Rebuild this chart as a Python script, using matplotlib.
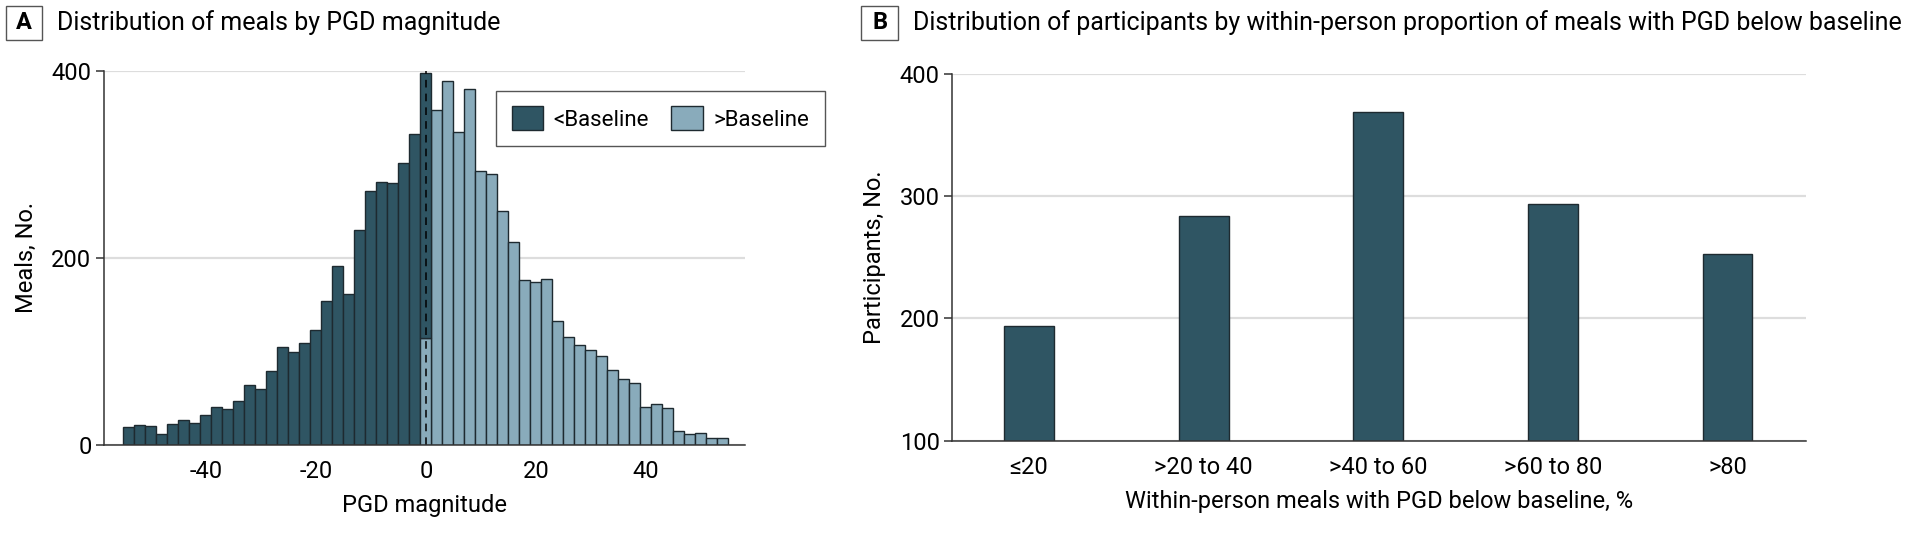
import numpy as np
import matplotlib
matplotlib.use("Agg")
import matplotlib.pyplot as plt
from matplotlib.patches import Rectangle, Patch

plt.rcParams['font.family'] = ['Roboto', 'DejaVu Sans']
plt.rcParams['axes.unicode_minus'] = False

# panel A: histogram of PGD magnitude (2-unit bins)
below_centers = np.arange(-54, -1, 2)
below_counts = [19, 21, 20, 12, 22, 27, 24, 32, 41, 38, 47, 64, 60, 79, 105,
                99, 109, 123, 154, 191, 161, 230, 271, 281, 280, 301, 332]
straddle_center = 0
straddle_above = 114
straddle_below = 284
above_centers = np.arange(2, 55, 2)
above_counts = [358, 389, 335, 380, 293, 290, 250, 217, 176, 174, 177, 132,
                115, 107, 101, 95, 80, 71, 66, 41, 44, 40, 15, 12, 13, 7, 7]

# panel B: participants by proportion of meals below baseline
groups = ['≤20', '>20 to 40', '>40 to 60', '>60 to 80', '>80']
participants = [194, 284, 369, 294, 253]

dark = '#2f5563'
light = '#89abbb'
edge = '#1e2a30'
grid_c = '#dddddd'
spine_c = '#333333'

W, H = 1912, 549
fig = plt.figure(figsize=(W / 100, H / 100), dpi=100)


def px_axes(l, t, r, b):
    return fig.add_axes([l / W, 1 - b / H, (r - l) / W, (b - t) / H])


def style(ax):
    for s in ['top', 'right']:
        ax.spines[s].set_visible(False)
    for s in ['left', 'bottom']:
        ax.spines[s].set_color(spine_c)
        ax.spines[s].set_linewidth(1.1)
    ax.tick_params(axis='y', length=6, width=1.1, color=spine_c, pad=3, labelsize=17)
    ax.tick_params(axis='x', length=0, pad=11, labelsize=17)
    ax.yaxis.grid(True, color=grid_c, linewidth=1.6)
    ax.set_axisbelow(True)


def panel_label(letter, x0, x1, y0, y1, title_x, text):
    fig.patches.append(Rectangle((x0 / W, 1 - y1 / H), (x1 - x0) / W, (y1 - y0) / H,
                                 transform=fig.transFigure, fill=False,
                                 edgecolor='#555555', linewidth=1.0))
    fig.text((x0 + x1) / 2 / W, 1 - (y0 + y1) / 2 / H, letter, ha='center', va='center',
             fontsize=17, fontweight='bold')
    fig.text(title_x / W, 1 - 23 / H, text, ha='left', va='center', fontsize=18)


# ---- panel A
ax1 = px_axes(104, 70.7, 745, 445)
style(ax1)
ax1.bar(below_centers, below_counts, width=2, color=dark, edgecolor=edge, linewidth=1)
ax1.bar(above_centers, above_counts, width=2, color=light, edgecolor=edge, linewidth=1)
ax1.bar(straddle_center, straddle_above, width=2, color=light, edgecolor=edge, linewidth=1)
ax1.bar(straddle_center, straddle_below, width=2, bottom=straddle_above, color=dark,
        edgecolor=edge, linewidth=1)
ax1.axvline(0, color='black', linestyle=(0, (5, 4)), linewidth=1.1)
ax1.set_xlim(-58.5, 58)
ax1.set_ylim(0, 400)
ax1.set_yticks([0, 200, 400])
ax1.set_xticks([-40, -20, 0, 20, 40])
ax1.set_xlabel('PGD magnitude', fontsize=17, labelpad=8)
ax1.set_ylabel('Meals, No.', fontsize=17, labelpad=10)
handles = [Patch(facecolor=dark, edgecolor=edge, label='<Baseline'),
           Patch(facecolor=light, edgecolor=edge, label='>Baseline')]
leg = ax1.legend(handles=handles, loc='upper left', bbox_to_anchor=(0.6115, 0.9466),
                 borderaxespad=0, ncol=2, fontsize=16, frameon=True, fancybox=False,
                 framealpha=1, edgecolor='#555555', handlelength=1.4, handleheight=1.3,
                 columnspacing=1.0, handletextpad=0.5, borderpad=0.7)
leg.get_frame().set_linewidth(1.0)

panel_label('A', 5.7, 42.3, 5.7, 40, 57.3, 'Distribution of meals by PGD magnitude')

# ---- panel B
ax2 = px_axes(952.3, 74, 1806, 440.7)
style(ax2)
xb = np.arange(len(groups))
ax2.bar(xb, participants, width=0.285, color=dark, edgecolor=edge, linewidth=1)
ax2.set_xlim(-0.44, 4.45)
ax2.set_ylim(100, 400)
ax2.set_yticks([100, 200, 300, 400])
ax2.set_xticks(xb)
ax2.set_xticklabels(groups)
ax2.set_xlabel('Within-person meals with PGD below baseline, %', fontsize=17, labelpad=8)
ax2.set_ylabel('Participants, No.', fontsize=17, labelpad=10)

panel_label('B', 861.4, 897.9, 5.7, 40, 913.3,
            'Distribution of participants by within-person proportion of meals with PGD below baseline')

fig.savefig('out.png', dpi=100)
